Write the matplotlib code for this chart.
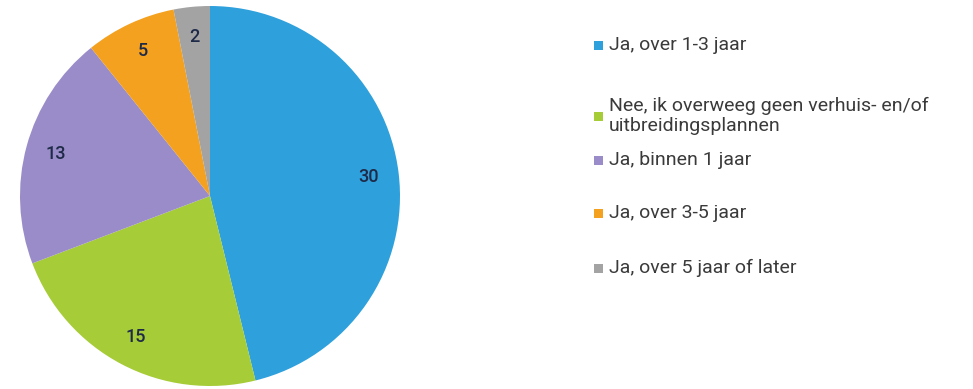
import matplotlib.pyplot as plt
from matplotlib.patches import Rectangle

# data
labels = ['Ja, over 1-3 jaar',
          'Nee, ik overweeg geen verhuis- en/of\nuitbreidingsplannen',
          'Ja, binnen 1 jaar',
          'Ja, over 3-5 jaar',
          'Ja, over 5 jaar of later']
values = [30, 15, 13, 5, 2]
colors = ['#2ea0dc', '#a6cc38', '#9a8cc8', '#f4a11f', '#a3a3a3']

plt.rcParams['font.family'] = ['Roboto', 'DejaVu Sans']

fig = plt.figure(figsize=(9.73, 3.89), dpi=100)
ax = fig.add_axes([20 / 973, 3 / 389, 380 / 973, 380 / 389])

wedges, texts = ax.pie(values, colors=colors, startangle=90, counterclock=False,
                       labels=[str(v) for v in values], labeldistance=0.84,
                       wedgeprops=dict(linewidth=0))
for t in texts:
    t.set_ha('center')
    t.set_va('center')
    t.set_fontsize(13)
    t.set_fontweight('medium')
    t.set_color('#1e2a48')
ax.set_xlim(-1, 1)
ax.set_ylim(-1, 1)
ax.set_aspect('equal')

# legend drawn by hand to keep the uneven spacing
leg_y = [45, 116, 160, 213, 268]
for w, lab, y in zip(wedges, labels, leg_y):
    yf = 1 - y / 389
    fig.add_artist(Rectangle((594 / 973, yf - 5 / 389), 9 / 973, 9 / 389,
                             transform=fig.transFigure,
                             facecolor=w.get_facecolor(), edgecolor='none'))
    fig.text(609 / 973, yf, lab, ha='left', va='center', fontsize=14,
             color='#3a3a3a', linespacing=1.15)

fig.savefig('out.png', dpi=100)
